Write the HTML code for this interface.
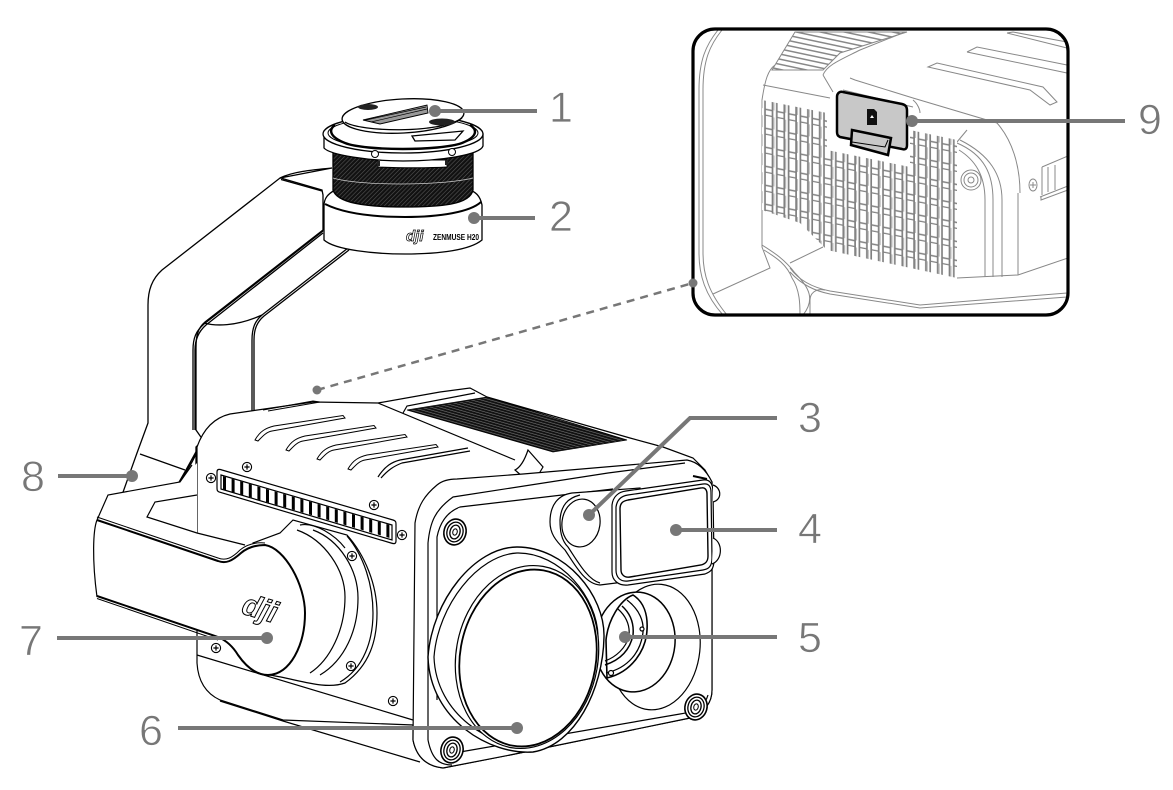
<!DOCTYPE html>
<html><head><meta charset="utf-8">
<style>html,body{margin:0;padding:0;background:#fff}svg{display:block}
.n{font-family:"Liberation Sans",sans-serif;font-size:43px;fill:#777;stroke:#fff;stroke-width:.7px;paint-order:normal}</style></head>
<body>
<svg width="1173" height="790" viewBox="0 0 1173 790" xmlns="http://www.w3.org/2000/svg">
<defs>
<pattern id="hs" width="4" height="2.6" patternUnits="userSpaceOnUse" patternTransform="rotate(16)"><rect width="4" height="2.6" fill="#777"/><rect width="4" height="2" fill="#111"/></pattern>
<pattern id="kn" width="3" height="3" patternUnits="userSpaceOnUse" patternTransform="rotate(-45)"><rect width="3" height="3" fill="#111"/><rect width="3" height=".6" fill="#555"/></pattern>
<pattern id="ih" width="5" height="5" patternUnits="userSpaceOnUse" patternTransform="rotate(12)"><rect width="5" height="5" fill="#fff"/><rect width="5" height="1.5" fill="#888"/></pattern>
<pattern id="gr" x="763" y="100" width="11.8" height="19" patternUnits="userSpaceOnUse" patternTransform="skewY(11)">
<rect width="11.8" height="19" fill="#fff"/>
<path d="M2 0V19M9.500 0V19" stroke="#808080" stroke-width="1.700" fill="none"/>
<path d="M2 12.500H9.500M2 18.500H9.500" stroke="#808080" stroke-width="1.500" fill="none"/>
<path d="M11 0V12" stroke="#aaa" stroke-width=".8" fill="none"/>
</pattern>
<clipPath id="ic"><rect x="693" y="29" width="375" height="286" rx="22"/></clipPath>
<g id="sc"><circle r="4.6" fill="#fff" stroke="#000" stroke-width="1.1"/><path d="M-2.6 0H2.6M0-2.6V2.6" stroke="#000" stroke-width="1.2"/></g>
<g id="bs"><ellipse rx="11" ry="13" fill="#fff" stroke="#000" stroke-width="1.6" transform="rotate(15)"/><ellipse rx="8" ry="10" fill="none" stroke="#000" stroke-width="1.3" transform="rotate(15)"/><ellipse rx="5" ry="7" fill="none" stroke="#000" stroke-width="1.3" transform="rotate(15)"/><ellipse rx="2.2" ry="3.2" fill="none" stroke="#000" transform="rotate(15)"/></g>
<path id="vt" d="M255 440C260 431 266 428 274 426L343 415.500L345 418L272 431C266 432 262 437 258 441Z" fill="#fff" stroke="#000" stroke-width="1"/>
</defs>
<rect width="1173" height="790" fill="#fff"/>

<!-- gimbal arm -->
<g fill="none" stroke="#000" stroke-width="1.3">
<path d="M332 168C310 170 292 172 280 178L162 270C152 279 148 290 148 305V423L137 453L122 495L196 500V447L203 440L196 430V348C196 335 198 328 205 322L323 230V195L322 190L284 179C282 178 281 178 280 178Z" fill="#fff"/>
<path d="M323 231L204 324C196 331 193 338 193 350V430M323 233L206 325C198 332 195 340 195 350V430M322 191L281 179.500" />
<path d="M348 248L262 315C255 321 252 328 252 340V412M349 250L264 316C257 322 254 329 254 340V412" />
<path d="M204 323C215 326 235 327 262 315"/>
<path d="M203 441L192 462L180 482M197 450L186 470L178 484" />
<path d="M140 454L185 470" />
</g>

<!-- top mount -->
<g stroke="#000" stroke-width="1.3">
<path d="M324 206V240C335 250 375 254 405 254C440 254 470 250 482 240V205C480 195 475 192 470 190L335 190C328 194 324 198 324 206Z" fill="#fff"/>
<path d="M325 204C345 214 375 217 405 217C440 217 470 212 481 202" fill="none" stroke-width="2"/>
<path d="M333 153H473V190C470 205 440 207 403 207C365 207 337 203 333 190Z" fill="url(#kn)"/>
<path d="M333 178C360 186 440 186 473 178" fill="none" stroke="#ccc" stroke-width=".7"/>
<path d="M378 160H447V167C430 168 400 168 378 167Z" fill="#fff" stroke-width=".9"/>
<path d="M324 135V148C330 155 370 161 403 161C440 161 480 155 483 146V134Z" fill="#fff"/>
<ellipse cx="403" cy="134" rx="80" ry="19" fill="#fff"/>
<ellipse cx="403" cy="133" rx="75" ry="16" fill="none" stroke-width="1"/>
<path d="M335 125C328 130 330 137 345 143C365 151 440 151 462 143C477 137 478 130 470 125" fill="none" stroke-width="2.400"/>
<ellipse cx="403" cy="116" rx="61" ry="17" fill="#fff" transform="rotate(-3 403 116)"/>
<path d="M345 122C360 132 440 134 462 118" fill="none"/>
<path d="M363 120L427 105L428 113L380 124Z" fill="#999" stroke-width=".9"/>
<path d="M366 120L426 107M371 122L427 109" stroke="#000" stroke-width=".7" fill="none"/>
<ellipse cx="368" cy="107" rx="10" ry="3" fill="#222" stroke="none"/>
<ellipse cx="442" cy="122" rx="13" ry="3.500" fill="#222" stroke="none"/>
<path d="M412 136L463 131L455 140L415 141Z" fill="#fff"/>
<circle cx="375" cy="154" r="3.500" fill="#fff" stroke-width="1"/><circle cx="452" cy="152" r="3.500" fill="#fff" stroke-width="1"/>
<rect x="377" y="161" width="3" height="5" fill="#222" stroke="none"/><rect x="445" y="160" width="3" height="5" fill="#222" stroke="none"/>
</g>
<text x="406" y="241" font-family="Liberation Sans" font-size="15" font-style="italic" font-weight="700" fill="#fff" stroke="#000" stroke-width=".7">dji</text>
<text x="433" y="240" font-family="Liberation Sans" font-size="8.500" font-weight="700" fill="#000" textLength="46" lengthAdjust="spacingAndGlyphs">ZENMUSE H20</text>

<!-- body -->
<g stroke="#000" stroke-width="1.2">
<path d="M197 447C203 430 213 418 230 414L313 402L378 403L440 392L470 388L487 397L630 438L663 447L693 458L705 470L712 482V690C712 703 705 712 690 718L510 755L443 768C425 766 416 755 413 740V725L283 720L220 700C205 693 198 680 197 663Z" fill="#fff"/>
<path d="M220 701L283 721L420 762" fill="none"/>
<path d="M197 655L413 720" fill="none"/>
<path d="M378 403L515 460" fill="none"/>
<path d="M407 410L487 397L627 440L553 452Z" fill="url(#hs)" stroke="#000" stroke-width=".8"/>
<path d="M403 413L407 406L475 393" fill="none"/>
<path d="M263 410L313 401L320 402L268 411" fill="none" stroke-width="1"/>
<use href="#vt"/><use href="#vt" transform="translate(31,10)"/><use href="#vt" transform="translate(62,19)"/><use href="#vt" transform="translate(93,29)"/>
<path d="M378 477C385 466 392 462 400 460L468 448M381 478C388 470 394 466 402 463L470 451" fill="none"/>
<path d="M528 450L543 467L537 477L523 477L515 470C519 468 524 462 528 450Z" fill="#fff"/>
<!-- front plate -->
<path d="M413 740L415 523C418 505 425 495 437 485C443 480 450 479 457 479L523 474L687 460C698 462 706 470 712 482V690C712 703 705 712 690 718L510 755L443 768C425 766 416 755 413 740Z" fill="#fff"/>
<path d="M428 740V543C430 522 435 510 453 497L608 473L685 463" fill="none"/>
<path d="M437 700V537C440 522 447 512 460 507L613 489" fill="none"/>
<path d="M428 740C432 760 440 765 452 765" fill="none"/>
<path d="M460 752L680 714C695 712 705 706 708 695" fill="none"/>

<!-- right lens -->
<ellipse cx="655" cy="647" rx="45" ry="63" fill="#fff" transform="rotate(6 655 647)"/>
<ellipse cx="635" cy="642" rx="40" ry="50" fill="#fff" transform="rotate(6 635 642)" stroke-width="1.500"/>
<path d="M606 640C608 620 620 600 633 595C644 602 648 615 647 630C646 650 632 672 607 678Z" fill="#fff" stroke-width="1.600"/>
<path d="M627 600C640 610 644 622 643 632C641 652 628 668 606 673" fill="none" stroke-width="1.300"/>
<path d="M622 606C632 615 634 625 633 635C630 650 620 660 605 665" fill="none" stroke-width="1.500"/>
<path d="M618 609C628 618 630 627 629 636C626 648 616 657 605 661" fill="none" stroke-width="1.200"/>
<circle cx="611" cy="673" r="2.500" fill="#fff"/><circle cx="642" cy="629" r="2" fill="#fff"/>

<!-- big lens -->
<path d="M428 657C432 600 475 547 517 547C565 547 605 595 604 637C603 690 575 745 533 752C490 755 430 720 428 657Z" fill="#fff" stroke-width="1.400"/>
<path d="M434 657C438 605 478 555 517 553C560 552 598 598 598 637C597 688 570 740 530 746C492 748 436 715 434 657Z" fill="#fff" stroke-width="1.200"/>
<ellipse cx="527" cy="657" rx="71" ry="92" fill="#fff" stroke-width="1.200" transform="rotate(10 527 657)"/>
<ellipse cx="528" cy="658" rx="68" ry="89" fill="#fff" stroke-width="1.800" transform="rotate(10 528 658)"/>

<!-- lens 3 & window 4 -->
<path d="M550 522C550 505 558 495 572 493L640 488V580L600 585C585 584 575 565 565 550C555 540 550 533 550 522Z" fill="#fff"/>
<path d="M560 520C561 505 568 498 580 495M600 583C588 580 578 562 568 547C561 540 560 530 560 520" fill="none"/>
<ellipse cx="581" cy="523" rx="19" ry="24" fill="#fff" transform="rotate(8 581 523)"/>
<path d="M612 505C613 497 618 492 626 491L703 480C710 479 713 484 713 492L714 560C714 570 710 572 705 574L628 585C618 586 612 580 612 572Z" fill="#fff"/>
<path d="M616 507C617 500 621 496 628 495L703 484C709 483 711 487 711 492L712 558C712 566 709 569 703 570L628 581C620 582 616 577 616 570Z" fill="none"/>
<path d="M620 509C620 503 623 501 628 500L701 488C705 487 707 490 707 494L708 556C708 562 705 564 701 565L630 577C624 578 621 574 621 570Z" fill="#fff" stroke-width="1.400"/>
<path d="M713 485C722 488 722 500 713 502M713 538C723 542 723 560 712 564" fill="#fff"/>
<path d="M693 476L707 479" stroke-width="2"/>
</g>
<use href="#bs" x="455" y="532"/><use href="#bs" x="452" y="750"/><use href="#bs" x="696" y="707"/>

<!-- side vent -->
<g stroke="#000" stroke-width="1.200">
<path d="M217 472C217 469 219 469 222 470L393 520C396 521 396 522 396 525V541C396 544 394 544 391 543L219 492C217 491 217 490 217 487Z" fill="#fff"/>
<path d="M221 475L392 525V540L221 489Z" fill="#fff"/>
<g transform="translate(217,472) skewY(16.300)"><line x1="6" y1="9" x2="176" y2="9" stroke="#000" stroke-width="13" stroke-dasharray="3 5.600"/></g>
</g>
<use href="#sc" x="211" y="478"/><use href="#sc" x="247" y="467"/><use href="#sc" x="374" y="505"/><use href="#sc" x="402" y="535"/><use href="#sc" x="216" y="648"/><use href="#sc" x="393" y="701"/>

<!-- barrel & yoke -->
<g stroke="#000" stroke-width="1.200">
<path d="M253 543L280 533L293 520L347 535C365 555 377 585 377 613C377 640 370 665 345 683C325 690 300 680 270 675Z" fill="#fff"/>
<path d="M347 536C364 556 373 585 373 613C373 640 364 668 340 682M313 530C340 540 358 570 358 598C358 630 345 660 320 675M297 530C325 540 345 570 345 597C345 630 330 660 310 673" fill="none"/>
<path d="M300 525C315 522 335 535 345 548" fill="none"/>
<path d="M97 520L108 495L180 482L197 463V533L240 545L267 543L297 580L305 613L293 657L270 675C255 675 247 667 240 660L220 637L97 597L93 553Z" fill="#fff" stroke="none"/>
<path d="M97 520L108 495L180 482L192 465" fill="none"/>
<path d="M197 495L155 502L147 517L197 533L245 545" fill="none"/>
<path d="M97 520C93 530 92 560 97 597" fill="none"/>
<path d="M97 517L218 558C226 561 232 558 240 550C246 545 255 542 265 543" fill="none" stroke-width="1"/>
<path d="M97 520L218 561C226 564 232 561 241 553C248 547 256 545 265 545C285 548 305 585 305 613C305 645 290 675 268 675C255 675 245 665 238 655C232 645 225 640 218 637L97 596" fill="none" stroke-width="2"/>
<path d="M97 598.500L218 640" fill="none" stroke-width="1"/>
</g>
<use href="#sc" x="352" y="556"/><use href="#sc" x="351" y="666"/>
<text x="242" y="618" font-family="Liberation Sans" font-size="30" font-style="italic" font-weight="700" fill="#fff" stroke="#000" stroke-width="1" transform="rotate(17 258 610)">dji</text>

<!-- inset -->
<g clip-path="url(#ic)">
<rect x="693" y="29" width="375" height="286" fill="#fff"/>
<g fill="none" stroke="#888" stroke-width="1">
<path d="M795 32H907L840 53L823 70H772Z" fill="url(#ih)"/>
<path d="M718 30C706 45 699 60 699 90V253C699 275 705 295 723 315M722 30C710 45 703 60 703 90V253C703 275 709 293 727 315"/>
<path d="M713 294L770 268L762 247V100C765 80 768 70 775 65"/>
<path d="M762 245C775 253 785 260 795 273C810 288 815 300 803 315M764 250C777 258 787 265 792 278C800 290 800 305 800 315"/>
<path d="M790 263L823 247"/>
<path d="M790 268C800 282 815 288 830 291L920 305L1067 293M790 272C802 285 815 291 830 294L920 308L1067 297"/>
<path d="M810 315V300C810 294 815 288 825 290"/>
<path d="M823 75C827 65 840 60 860 50L905 32M823 75L833 92"/>
<path d="M763 85L830 98"/>
<path d="M850 78L855 80L913 98L997 123C1012 140 1020 165 1020 193M913 100C918 104 920 110 920 113"/>
<path d="M928 67L937 63L1043 87L1057 102L1050 105L1030 90Z"/>
<path d="M967 52L977 47L1067 65M967 52L1067 73"/>
<path d="M1007 33L1013 32L1067 42M1007 33L1067 48"/>
<path d="M1018 193V275M957 278L1018 275L1068 258"/>
<path d="M957 143C985 155 993 175 993 200V277M960 140C990 155 1002 175 1002 200V277M959 150C975 160 985 175 985 200V277"/>
<path d="M967 130L957 142"/>
<circle cx="971" cy="180" r="10"/><circle cx="971" cy="180" r="7"/><circle cx="971" cy="180" r="3"/>
<path d="M1042 167L1068 156M1042 167V195M1040 197L1068 186M1048 167V192M1055 165V190"/>
<path d="M1041 197V200L1068 190"/>
<ellipse cx="1033" cy="185" rx="4" ry="6"/><path d="M1030 185H1036M1033 182V188"/>
</g>
<path d="M762 100L827 113V150L910 167V130L957 140V278L827 250L800 223L762 210Z" fill="url(#gr)"/>
<path d="M843 90L913 107" stroke="#888" fill="none"/>
<path d="M837 97C837 93 840 91 843 92L902 104C906 105 907 107 907 111V145C907 149 905 150 902 149L840 137C838 136 837 135 837 132Z" fill="#c8c8c8" stroke="#000" stroke-width="2.500"/>
<path d="M867 109H874L877 112V125H867Z" fill="#111"/>
<path d="M870 118L872 115L874 118Z" fill="#fff"/>
<path d="M852 130L891 138L888 155L851 145Z" fill="#c8c8c8" stroke="#000" stroke-width="2.500"/>
<path d="M852 142L885 147L888 140" fill="none" stroke="#000" stroke-width="1"/>
</g>
<rect x="693" y="29" width="375" height="286" rx="22" fill="none" stroke="#000" stroke-width="3.200"/>

<!-- leaders -->
<g fill="none" stroke="#777" stroke-width="4">
<path d="M435 111H537"/>
<path d="M474 218H535"/>
<path d="M589 515L690 418H777"/>
<path d="M676 530H777"/>
<path d="M625 637H777"/>
<path d="M517 728H178"/>
<path d="M267 638H57"/>
<path d="M132 476H58"/>
<path d="M912 121H1125"/>
<path d="M317 390L693 283" stroke-width="2.500" stroke-dasharray="8 6"/>
</g>
<g fill="#777">
<circle cx="435" cy="111" r="6"/><circle cx="474" cy="218" r="6"/><circle cx="589" cy="515" r="6"/><circle cx="676" cy="530" r="6"/><circle cx="625" cy="637" r="6"/><circle cx="517" cy="728" r="6"/><circle cx="267" cy="638" r="6"/><circle cx="132" cy="476" r="6"/><circle cx="912" cy="121" r="6"/><circle cx="317" cy="390" r="4.500"/><circle cx="693" cy="283" r="4.500"/>
</g>
<text class="n" x="549" y="122">1</text>
<text class="n" x="549" y="231">2</text>
<text class="n" x="798" y="432">3</text>
<text class="n" x="798" y="543">4</text>
<text class="n" x="798" y="652">5</text>
<text class="n" x="139" y="745">6</text>
<text class="n" x="19" y="655">7</text>
<text class="n" x="21" y="491">8</text>
<text class="n" x="1138" y="134">9</text>
</svg>
</body></html>
